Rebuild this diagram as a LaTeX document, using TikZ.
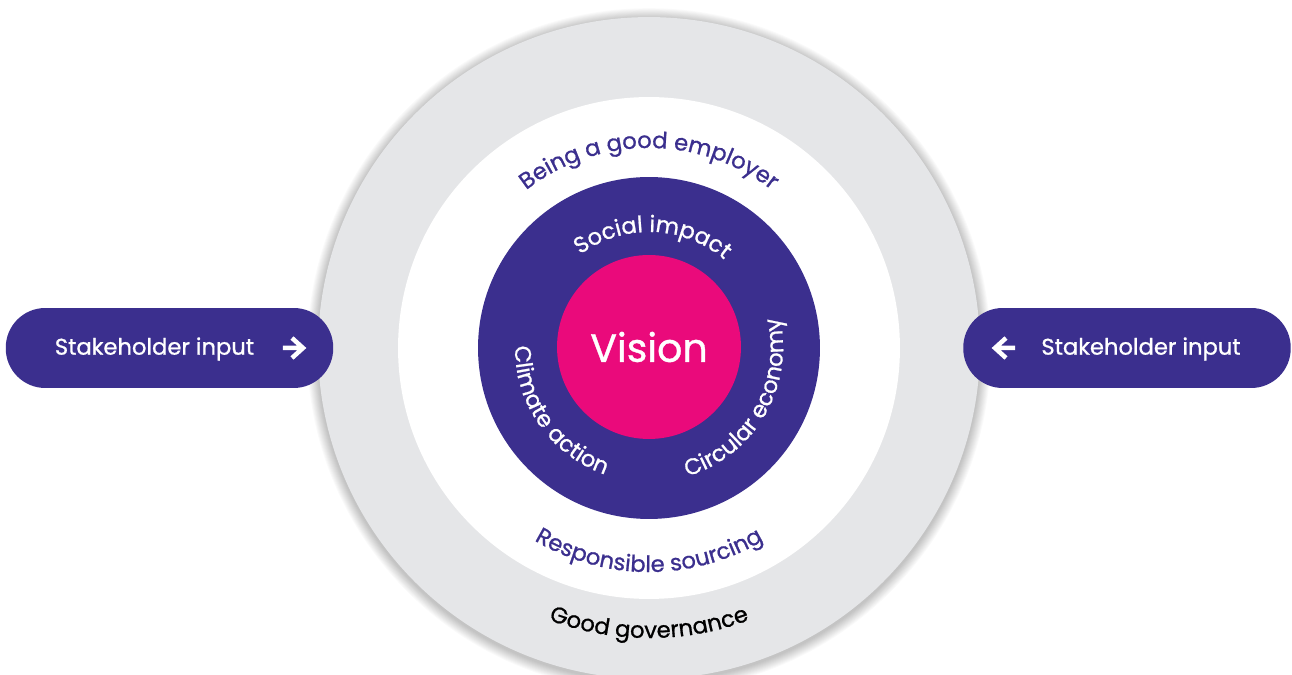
\documentclass[tikz,border=0pt]{standalone}
\usepackage{fontspec}
\setmainfont{Poppins}[UprightFeatures={FakeBold=0.9}]
\usetikzlibrary{decorations.text,positioning}
\definecolor{brand}{HTML}{3B2F8E}
\definecolor{vivid}{HTML}{EA0A7B}
\definecolor{mist}{HTML}{E5E6E8}
\newcommand\ringfont{\fontsize{12.9}{14}\selectfont}
\tikzset{
  disc/.style={circle,inner sep=0pt,draw=none},
  pill/.style={fill=brand,rounded corners=0.79cm,minimum width=6.55cm,minimum height=1.6cm,inner sep=0pt},
  pilltext/.style={text=white,font=\ringfont,inner sep=0pt},
  icon/.style={draw=white,line width=0.09cm,line join=miter},
  arctext/.style={decorate,decoration={text along path,text align=center,text={#1}}}
}

\begin{document}
\begin{tikzpicture}[x=0.02cm,y=0.02cm]
\useasboundingbox (-649,-327) rectangle (643,348);
\clip (-649,-327) rectangle (643,348);
\fill[white] (-649,-327) rectangle (643,348);
% soft shadow round the outer ring
\foreach \k in {1,...,12}
  \fill[black,opacity=0.02] (0,-2) circle[radius=331+\k*0.9];
% rings, outside in
\node[disc,fill=mist,minimum size=13.24cm] (governance) at (0,0) {};
\node[disc,fill=white,minimum size=10.04cm] (pillars) at (0,0) {};
\node[disc,fill=brand,minimum size=6.84cm] (themes) at (0,0) {};
\node[disc,fill=vivid,minimum size=3.68cm,text=white,font=\fontsize{22.5}{26}\selectfont] (vision) at (0,1) {Vision};
% curved labels
\path[arctext={|\ringfont\color{brand}|Being a good employer}] (170:200) arc[start angle=170,end angle=10,radius=200];
\path[arctext={|\ringfont\color{white}|Social impact}] (168:116) arc[start angle=168,end angle=8,radius=116];
\path[arctext={|\ringfont\color{white}|Climate action}] (145:134) arc[start angle=145,end angle=285,radius=134];
\path[arctext={|\ringfont\color{white}|Circular economy}] (-100:134) arc[start angle=-100,end angle=40,radius=134];
\path[arctext={|\ringfont\color{brand}|Responsible sourcing}] (200:224) arc[start angle=200,end angle=340,radius=224];
\path[arctext={|\ringfont\color{black}|Good governance}] (210:290) arc[start angle=210,end angle=330,radius=290];
% stakeholder pills
\node[pill] (inleft) at (-479.5,0) {};
\node[pilltext] (inlefttext) at (-494.5,-1) {Stakeholder input};
\coordinate (inleftarrow) at (-355,0);
\draw[icon] (inleftarrow) +(-11,0) -- +(9,0) +(-2,-10) -- +(9,0) -- +(-2,10);
\node[pill] (inright) at (478,0) {};
\node[pilltext] (inrighttext) at (492,-1) {Stakeholder input};
\coordinate (inrightarrow) at (355,0);
\draw[icon] (inrightarrow) +(11,0) -- +(-9,0) +(2,-10) -- +(-9,0) -- +(2,10);
\end{tikzpicture}
\end{document}
